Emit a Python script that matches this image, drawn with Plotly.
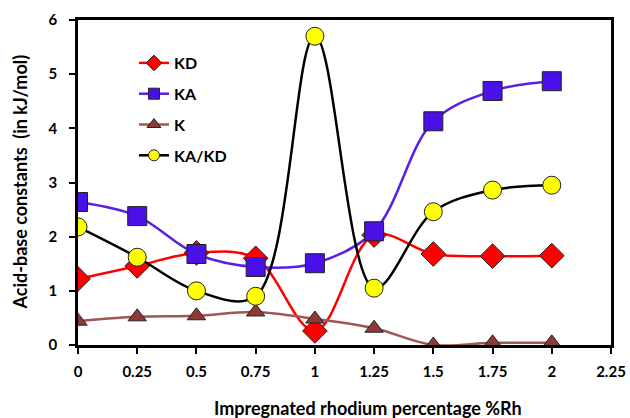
import plotly.graph_objects as go

# Impregnated Rh loading (%)
rh = [0, 0.25, 0.5, 0.75, 1, 1.25, 1.5, 1.75, 2]

# Acid-base constants (kJ/mol)
kd = [1.22, 1.46, 1.70, 1.60, 0.26, 2.03, 1.68, 1.64, 1.65]
ka = [2.64, 2.38, 1.68, 1.44, 1.51, 2.10, 4.13, 4.69, 4.87]
k = [0.44, 0.52, 0.54, 0.61, 0.48, 0.31, 0.00, 0.04, 0.04]
ka_kd = [2.18, 1.62, 1.00, 0.90, 5.70, 1.05, 2.46, 2.86, 2.95]

x_ticks = [0, 0.25, 0.5, 0.75, 1, 1.25, 1.5, 1.75, 2, 2.25]
x_tick_text = ["0", "0.25", "0.5", "0.75", "1", "1.25", "1.5", "1.75", "2", "2.25"]
y_ticks = [0, 1, 2, 3, 4, 5, 6]

FONT = "Lato"

series = [
    ("KD", kd, "#ff0000", "diamond", "#ff0000", 19, 12),
    ("KA", ka, "#5a1ee6", "square", "#4a10e8", 19, 11),
    ("K", k, "#a05654", "triangle-up", "#8c3a36", 16, 12),
    ("KA/KD", ka_kd, "#000000", "circle", "#ffff00", 18, 11),
]

fig = go.Figure()
for name, vals, line_col, sym, fill, size, leg_size in series:
    line = dict(color=line_col, width=2.5, shape="spline", smoothing=1.0)
    edge = dict(color="#222222", width=1)
    # data curve with full-size markers
    fig.add_trace(go.Scatter(
        x=rh, y=vals, name=name, legendgroup=name, showlegend=False,
        mode="lines+markers", line=line,
        marker=dict(symbol=sym, size=size, color=fill, line=edge),
    ))
    # legend key with smaller symbol
    fig.add_trace(go.Scatter(
        x=[None], y=[None], name=name, legendgroup=name,
        mode="lines+markers", line=line,
        marker=dict(symbol=sym, size=leg_size, color=fill, line=edge),
    ))

axis_common = dict(
    showgrid=False, zeroline=False, automargin=False,
    showline=True, linecolor="black", linewidth=2.5, mirror=True,
    ticks="outside", ticklen=6, tickwidth=2, tickcolor="black",
    tickfont=dict(family=FONT, size=15, weight="bold"),
)

fig.update_layout(
    width=630, height=418,
    margin=dict(l=78, r=19, t=20, b=73),
    paper_bgcolor="white", plot_bgcolor="white",
    font=dict(family=FONT, color="black"),
    showlegend=True,
    legend=dict(
        x=0.105, y=0.92, xanchor="left", yanchor="top",
        font=dict(family=FONT, size=16, color="black", weight="bold"),
        bgcolor="rgba(0,0,0,0)", tracegroupgap=7, itemwidth=30,
    ),
    xaxis=dict(range=[0, 2.25], tickvals=x_ticks, ticktext=x_tick_text,
               ticklabelstandoff=5, **axis_common),
    yaxis=dict(range=[0, 6], tickvals=y_ticks, ticklabelstandoff=9,
               **axis_common),
    annotations=[
        dict(text="Impregnated rhodium percentage %Rh",
             xref="paper", yref="paper", x=0.544, y=0,
             xanchor="center", yanchor="middle", yshift=-63,
             showarrow=False, font=dict(family=FONT, size=18, weight="bold")),
        dict(text="Acid-base constants  (in kJ/mol)",
             xref="paper", yref="paper", x=0, y=0.5,
             xanchor="center", yanchor="middle", xshift=-59, textangle=-90,
             showarrow=False, font=dict(family=FONT, size=18, weight="bold")),
    ],
)

fig.write_html("out.html")
